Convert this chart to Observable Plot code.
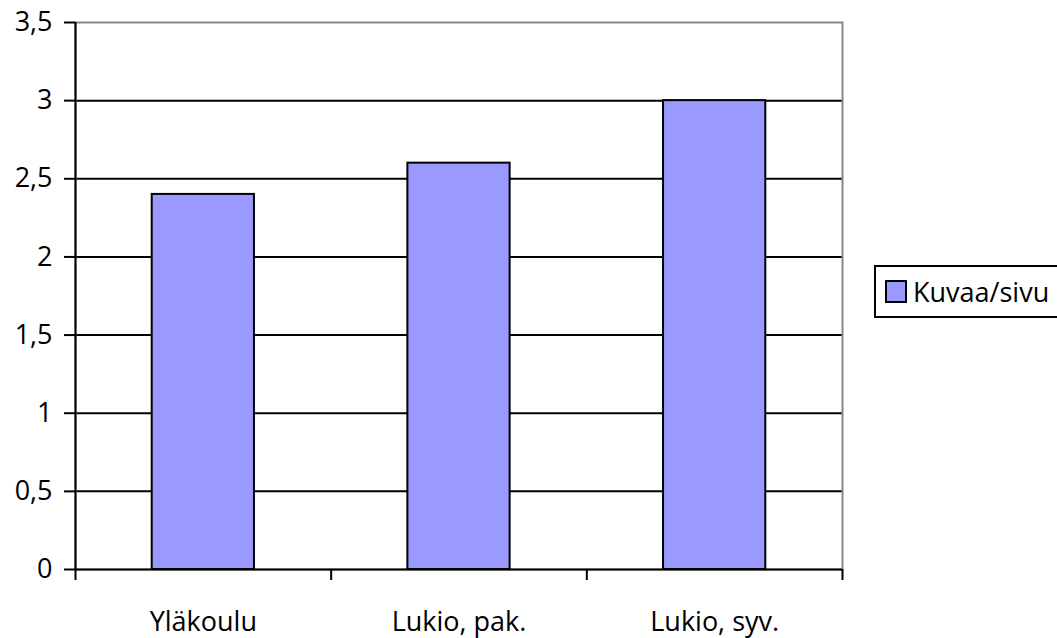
<!DOCTYPE html>
<html>
<head>
<meta charset="utf-8">
<script src="https://cdn.jsdelivr.net/npm/d3@7"></script>
<script src="https://cdn.jsdelivr.net/npm/@observablehq/plot@0.6"></script>
<style>
  html, body { margin: 0; padding: 0; background: #fff; }
  #wrap { position: relative; width: 1057px; height: 638px; overflow: hidden; font-family: "Open Sans", sans-serif; }
  #legend {
    position: absolute; left: 874px; top: 265px; width: 200px; height: 53px;
    border: 2px solid #000; box-sizing: border-box; background: #fff;
    display: flex; align-items: center; font-size: 27px; color: #000;
  }
  #legend .swatch { width: 18px; height: 19px; background: #9999ff; border: 2px solid #000; margin-left: 9px; margin-right: 6px; flex: none; }
</style>
</head>
<body>
<div id="wrap"></div>
<script>
// Kuvien määrä sivua kohden koulutasoittain
const categories = ["Yläkoulu", "Lukio, pak.", "Lukio, syv."];
const values = [2.4, 2.6, 3.0];
const yTicks = [0, 0.5, 1, 1.5, 2, 2.5, 3, 3.5];
const seriesName = "Kuvaa/sivu";

const data = categories.map((c, i) => ({category: c, index: i, value: values[i]}));
const fmt = d => String(d).replace(".", ",");

const chart = Plot.plot({
  width: 1057,
  height: 638,
  marginLeft: 75,
  marginRight: 215,
  marginTop: 22,
  marginBottom: 69,
  style: {fontFamily: "'Open Sans', sans-serif", fontSize: "27px", color: "#000", background: "#fff"},
  x: {type: "linear", domain: [0, categories.length], axis: null},
  y: {domain: [0, 3.5], axis: null},
  marks: [
    // horizontal gridlines
    Plot.ruleY(yTicks.filter(t => t > 0 && t < 3.5), {stroke: "#000", strokeWidth: 2}),
    // plot area border (top and right in grey)
    Plot.frame({stroke: "#888", strokeWidth: 2}),
    // bars
    Plot.rectY(data, {
      x1: d => d.index + 0.3,
      x2: d => d.index + 0.7,
      y: "value",
      fill: "#9999ff",
      stroke: "#000",
      strokeWidth: 2
    }),
    // axis lines
    Plot.ruleY([0], {stroke: "#000", strokeWidth: 2}),
    Plot.ruleX([0], {stroke: "#000", strokeWidth: 2}),
    // y axis
    Plot.axisY({
      ticks: yTicks,
      tickFormat: fmt,
      tickSize: 11,
      tickPadding: 12,
      strokeWidth: 2,
      stroke: "#000",
      fontSize: 27,
      label: null
    }),
    // x tick marks at category boundaries
    Plot.axisX({
      ticks: d3.range(categories.length + 1),
      tickFormat: () => "",
      tickSize: 11,
      strokeWidth: 2,
      stroke: "#000",
      label: null
    }),
    // x category labels
    Plot.axisX({
      ticks: categories.map((c, i) => i + 0.5),
      tickFormat: (d) => categories[Math.floor(d)],
      tickSize: 0,
      tickPadding: 42,
      fontSize: 27,
      label: null
    })
  ]
});

const wrap = document.getElementById("wrap");
wrap.appendChild(chart);

const legend = document.createElement("div");
legend.id = "legend";
legend.innerHTML = `<div class="swatch"></div><span>${seriesName}</span>`;
wrap.appendChild(legend);
</script>
</body>
</html>
